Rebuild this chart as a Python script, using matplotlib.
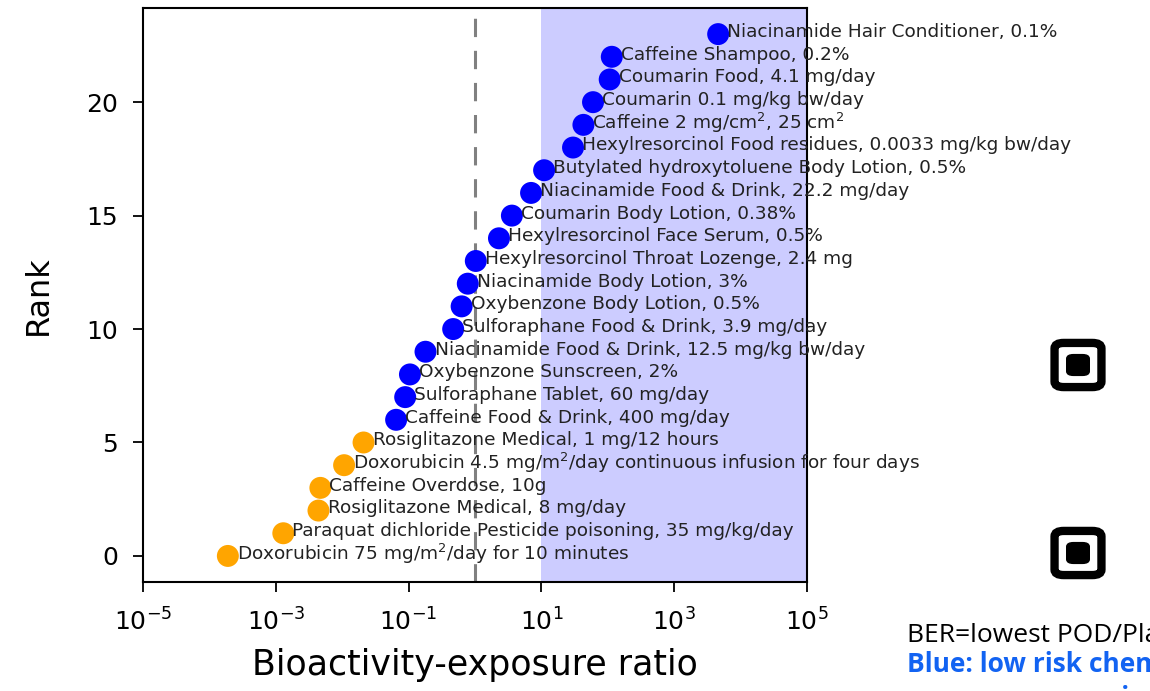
import numpy as np
import matplotlib
matplotlib.use("Agg")
import matplotlib.pyplot as plt
from matplotlib.patches import FancyBboxPatch

# rank 0 (lowest BER) .. 23 (highest BER)
labels = [
    "Doxorubicin 75 mg/m$^2$/day for 10 minutes",
    "Paraquat dichloride Pesticide poisoning, 35 mg/kg/day",
    "Rosiglitazone Medical, 8 mg/day",
    "Caffeine Overdose, 10g",
    "Doxorubicin 4.5 mg/m$^2$/day continuous infusion for four days",
    "Rosiglitazone Medical, 1 mg/12 hours",
    "Caffeine Food & Drink, 400 mg/day",
    "Sulforaphane Tablet, 60 mg/day",
    "Oxybenzone Sunscreen, 2%",
    "Niacinamide Food & Drink, 12.5 mg/kg bw/day",
    "Sulforaphane Food & Drink, 3.9 mg/day",
    "Oxybenzone Body Lotion, 0.5%",
    "Niacinamide Body Lotion, 3%",
    "Hexylresorcinol Throat Lozenge, 2.4 mg",
    "Hexylresorcinol Face Serum, 0.5%",
    "Coumarin Body Lotion, 0.38%",
    "Niacinamide Food & Drink, 22.2 mg/day",
    "Butylated hydroxytoluene Body Lotion, 0.5%",
    "Hexylresorcinol Food residues, 0.0033 mg/kg bw/day",
    "Caffeine 2 mg/cm$^2$, 25 cm$^2$",
    "Coumarin 0.1 mg/kg bw/day",
    "Coumarin Food, 4.1 mg/day",
    "Caffeine Shampoo, 0.2%",
    "Niacinamide Hair Conditioner, 0.1%",
]
ber = [1.9e-4, 1.3e-3, 4.4e-3, 4.7e-3, 1.07e-2, 2.1e-2,
       0.065, 0.089, 0.105, 0.18, 0.47, 0.63, 0.78, 1.03,
       2.3, 3.6, 7.0, 11.0, 30.0, 43.0, 60.0, 107.0, 115.0, 4600.0]
is_low_risk = [False] * 6 + [True] * 18

rank = np.arange(len(ber))
colors = ["blue" if lr else "orange" for lr in is_low_risk]

fig = plt.figure(figsize=(11.5, 6.91), dpi=100)
ax = fig.add_axes([0.1243, 0.1577, 0.5774, 0.8307])

ax.axvspan(10, 1e5, color="blue", alpha=0.2, lw=0)
ax.axvline(1, color="gray", ls="--", lw=2.2, dashes=(6, 4.5))
ax.scatter(ber, rank, c=colors, s=250, zorder=3, edgecolors="none")
for b, r, t in zip(ber, rank, labels):
    ax.annotate(t, (b, r), xytext=(6.5, 1.5), textcoords="offset points",
                va="center", fontsize=13.3, color="#222222", zorder=4)

ax.set_xscale("log")
ax.set_xlim(1e-5, 1e5)
ax.set_ylim(-1.15, 24.15)
ax.set_xticks([1e-5, 1e-3, 1e-1, 1e1, 1e3, 1e5])
ax.minorticks_off()
ax.set_yticks([0, 5, 10, 15, 20])
ax.tick_params(labelsize=18, length=7, width=1.3)
ax.tick_params(axis="x", pad=12)
ax.tick_params(axis="y", pad=11)
for s in ax.spines.values():
    s.set_linewidth(1.5)
ax.set_xlabel("Bioactivity-exposure ratio", fontsize=25, labelpad=9)
ax.set_ylabel("Rank", fontsize=23, labelpad=23)

# slide bits on the right (partly cut off)
for y0 in (342, 530):
    fig.patches.append(FancyBboxPatch((1058 / 1150, 1 - (y0 + 43) / 691), 40 / 1150, 40 / 691,
                                      boxstyle="round,pad=0.003,rounding_size=0.008",
                                      transform=fig.transFigure, fc="white", ec="black", lw=6))
    fig.patches.append(FancyBboxPatch((1069 / 1150, 1 - (y0 + 32) / 691), 18 / 1150, 18 / 691,
                                      boxstyle="round,pad=0.002,rounding_size=0.006",
                                      transform=fig.transFigure, fc="black", ec="black", lw=1))

fig.text(907 / 1150, 1 - 642 / 691, "BER=lowest POD/Plasma concentration",
         fontsize=19, family="Open Sans", color="black")
fig.text(907 / 1150, 1 - 672 / 691, "Blue: low risk chemical",
         fontsize=19, family="Open Sans", weight="bold", color="#1263f2")
fig.text(907 / 1150, 1 - 706 / 691, "exposure scenarios",
         fontsize=19, family="Open Sans", weight="bold", color="#1263f2")

fig.savefig("out.png", dpi=100, facecolor="white")
